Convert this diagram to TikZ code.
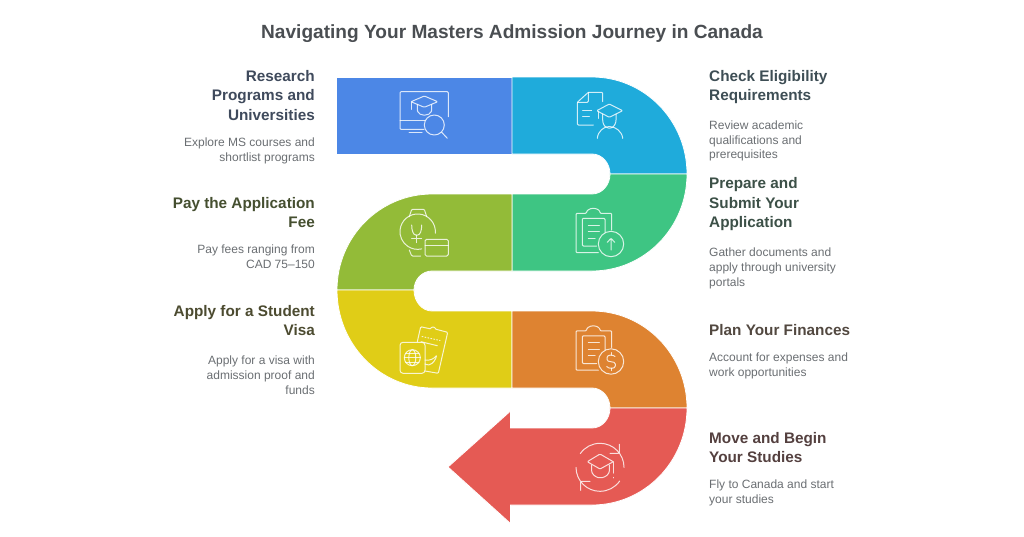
\documentclass[tikz,border=0pt]{standalone}
\usepackage{fontspec}
\setmainfont{Liberation Sans}
\usepackage{tikz}
\usetikzlibrary{positioning}

\definecolor{cblue}{HTML}{4C87E6}
\definecolor{ccyan}{HTML}{1FABDB}
\definecolor{cgreen}{HTML}{3EC583}
\definecolor{colive}{HTML}{93BB38}
\definecolor{cyellow}{HTML}{E0CD17}
\definecolor{corange}{HTML}{DE8331}
\definecolor{cred}{HTML}{E55A54}
\definecolor{ttitle}{HTML}{4A4E52}
\definecolor{tslate}{HTML}{3F4A5C}
\definecolor{tteal}{HTML}{3E4E55}
\definecolor{tgreen}{HTML}{3C5047}
\definecolor{tolive}{HTML}{454F30}
\definecolor{tyellow}{HTML}{4C4B30}
\definecolor{tbrown}{HTML}{524840}
\definecolor{tred}{HTML}{54403F}
\definecolor{tbody}{HTML}{6A6E72}

\tikzset{
  band/.style = { draw = white, line width = .8pt },
  icon/.style = { draw = white, opacity = .8, line width = 1pt, line cap = round, line join = round, rounded corners = 1pt },
  headl/.style = { align = right, anchor = north east, inner sep = 0pt, font = \fontsize{15.3}{19.5}\selectfont\bfseries },
  headr/.style = { align = left, anchor = north west, inner sep = 0pt, font = \fontsize{15.3}{19.5}\selectfont\bfseries },
  bodyl/.style = { align = right, anchor = north east, inner sep = 0pt, text = tbody, font = \fontsize{12}{14.8}\selectfont },
  bodyr/.style = { align = left, anchor = north west, inner sep = 0pt, text = tbody, font = \fontsize{12}{14.8}\selectfont },
  pics/clipboard/.style = { code = {
    \draw [icon] (611.7,230) -- (611.7,213.3) -- (600,213.3) arc [start angle = 0, end angle = 180, x radius = 6.7, y radius = -5] -- (576,213.3) -- (576,252.7) -- (598.3,252.7);
    \draw [icon] (605,232.3) -- (605,218.3) -- (582.3,218.3) -- (582.3,246) -- (596.7,246);
    \draw [icon] (588.3,225) -- (599.3,225) (588.3,231.7) -- (599.3,231.7) (588.3,238.3) -- (595,238.3);
    \draw [icon] (611,244) circle [radius = 12.7];
  } }
}

\begin{document}
\begin{tikzpicture}[x = 1pt, y = -1pt]
    \useasboundingbox (0,0) rectangle (1024,536);
    % bands
    \fill [band, fill = cblue] (336.5,77) rectangle (512,154);
    \fill [band, fill = ccyan] (512,77) -- (592,77) arc [start angle = 90, end angle = 0, x radius = 95, y radius = -97]
      -- (610,174) arc [start angle = 0, end angle = 90, x radius = 18, y radius = -20] -- (512,154) -- cycle;
    \fill [band, fill = cgreen] (512,271) -- (592,271) arc [start angle = -90, end angle = 0, x radius = 95, y radius = -97]
      -- (610,174) arc [start angle = 0, end angle = -90, x radius = 18, y radius = -20] -- (512,194) -- cycle;
    \fill [band, fill = colive] (512,194) -- (432,194) arc [start angle = 90, end angle = 180, x radius = 95, y radius = -96]
      -- (414,290) arc [start angle = 180, end angle = 90, x radius = 18, y radius = -19] -- (512,271) -- cycle;
    \fill [band, fill = cyellow] (512,388) -- (432,388) arc [start angle = -90, end angle = -180, x radius = 95, y radius = -98]
      -- (414,290) arc [start angle = 180, end angle = 270, x radius = 18, y radius = -21] -- (512,311) -- cycle;
    \fill [band, fill = corange] (512,311) -- (592,311) arc [start angle = 90, end angle = 0, x radius = 95, y radius = -97]
      -- (610,408) arc [start angle = 0, end angle = 90, x radius = 18, y radius = -20] -- (512,388) -- cycle;
    \fill [band, fill = cred] (687,408) arc [start angle = 0, end angle = -90, x radius = 95, y radius = -97]
      -- (510.5,505) -- (510.5,523.5) -- (448,467) -- (510.5,411) -- (510.5,428) -- (592,428)
      arc [start angle = -90, end angle = 0, x radius = 18, y radius = -20] -- cycle;
    % monitor icon
    \draw [icon] (448.3,116.7) -- (448.3,91.7) -- (400,91.7) -- (400,129.3) -- (424,129.3);
    \draw [icon] (400,120) -- (425,120) (409,132.3) -- (422,132.3);
    \draw [icon] (434.3,125) circle [radius = 10];
    \draw [icon] (441.7,132.3) -- (447.3,138.3);
    \draw [icon] (424.3,96) -- (437.7,101.7) -- (424.3,107.3) -- (411,101.7) -- cycle;
    \draw [icon] (417.3,104.3) -- (417.3,110.7) .. controls (419,114) and (421,115) .. (424.3,115) .. controls (428,115) and (430,114) .. (431.7,110.7) -- (431.7,104.3);
    \draw [icon] (411,101.7) -- (411,109.3);
    % student icon
    \draw [icon] (602.7,101.7) -- (602.7,92.3) -- (588.3,92.3) -- (577.3,102.3) -- (577.3,125) -- (593.3,125);
    \draw [icon] (588.3,92.3) -- (588.3,102.3) -- (577.3,102.3);
    \draw [icon] (582.7,110.7) -- (591.7,110.7) (582.7,116.7) -- (589.3,116.7);
    \draw [icon] (609.3,104) -- (622.7,110.7) -- (609.3,117.3) -- (596.7,110.7) -- cycle;
    \draw [icon] (602.7,114) -- (602.7,121) .. controls (603.5,125.5) and (606,128) .. (609.3,128) .. controls (612.5,128) and (615,125.5) .. (616,121) -- (616,114);
    \draw [icon] (597.3,138.3) .. controls (598,131) and (604,126.7) .. (609.3,126.7) .. controls (615,126.7) and (622,131) .. (622.7,138.3);
    \draw [icon] (598.3,111.7) -- (598.3,118.3);
    % submit icon
    \pic {clipboard};
    \draw [icon] (611,238.3) -- (611,250) (607.3,242.3) -- (611,238.3) -- (614.7,242.3);
    % watch icon
    \draw [icon] (435.3,233.2) arc [start angle = -5, end angle = 283, x radius = 17.7, y radius = -17.7];
    \draw [icon] (409.3,216.7) -- (411.7,209.3) -- (424.3,209.3) -- (426.7,216.7);
    \draw [icon] (409.3,250) -- (411.7,256) -- (420.7,256);
    \draw [icon] (411.7,225) .. controls (411.7,231) and (413.5,235) .. (416.7,235) .. controls (420,235) and (421.7,231) .. (421.7,225);
    \draw [icon] (416.7,235) -- (416.7,242.7) (411.7,238.3) -- (421.7,238.3);
    \draw [icon, rounded corners = 1.5pt] (425,239.3) rectangle (448.3,256);
    \draw [icon] (425,245) -- (448.3,245);
    % passport icon
    \draw [icon, rounded corners = 3pt] (400,342.3) rectangle (425,373.3);
    \draw [icon] (412.3,357.7) circle [radius = 8];
    \draw [icon] (412.3,357.7) ellipse [x radius = 3.5, y radius = 8];
    \draw [icon] (404.3,357.7) -- (420.3,357.7) (405.5,353.5) -- (419,353.5) (405.5,362) -- (419,362);
    \draw [icon] (417.3,341.7) -- (420.7,326.7) -- (431,329) arc [start angle = 180, end angle = 360, radius = 2] -- (447.7,332.3) -- (438.3,373.3) -- (425,371);
    \draw [icon, dotted] (422,336.5) -- (440,340.5);
    \draw [icon] (421,341.7) -- (437.3,345.7);
    \draw [icon] (425,360) .. controls (429,361) and (434,359) .. (436.7,355) .. controls (436,359) and (433,364) .. (428,365) -- (425,364);
    % finance icon
    \pic at (0,117.5) {clipboard};
    \draw [icon] (615,356.5) .. controls (613.5,354.5) and (607,354.5) .. (607,358.5) .. controls (607,363) and (615.3,360.5) .. (615.3,365) .. controls (615.3,369) and (608.5,369) .. (606.7,366.5);
    \draw [icon] (611,352.7) -- (611,355) (611,368) -- (611,370.5);
    % move icon
    \draw [icon] (600,454) -- (613.3,461.7) -- (600,469) -- (587.3,461.7) -- cycle;
    \draw [icon] (591.7,465) -- (591.7,472) .. controls (594,476.5) and (598,477.7) .. (600,477.7) .. controls (603,477.7) and (607,476.5) .. (609.3,472) -- (609.3,465);
    \draw [icon] (613.3,461.7) -- (613.3,473) (613.3,477.3) -- (613.3,477.9);
    \draw [icon] (576,467.3) arc [start angle = 180, end angle = 35, radius = 24];
    \draw [icon] (619.3,444.3) -- (619.3,453.3) -- (610,453.3);
    \draw [icon] (624,467.3) arc [start angle = 0, end angle = -145, radius = 24];
    \draw [icon] (580.7,490.3) -- (580.7,481.3) -- (590,481.3);
    % title
    \node [inner sep = 0pt, text = ttitle, font = \fontsize{19.1}{23}\selectfont\bfseries] (title) at (512,34) { Navigating Your Masters Admission Journey in Canada };
    % left texts
    \node [headl, text = tslate] (research) at (315,70) { Research\\ Programs and\\ Universities };
    \node [bodyl] (researchb) at (315,137.5) { Explore MS courses and\\ shortlist programs };
    \node [headl, text = tolive] (fee) at (315,197) { Pay the Application\\ Fee };
    \node [bodyl] (feeb) at (315,245) { Pay fees ranging from\\ CAD 75–150 };
    \node [headl, text = tyellow] (visa) at (315,305) { Apply for a Student\\ Visa };
    \node [bodyl] (visab) at (315,355.5) { Apply for a visa with\\ admission proof and\\ funds };
    % right texts
    \node [headr, text = tteal] (check) at (709,70) { Check Eligibility\\ Requirements };
    \node [bodyr] (checkb) at (709,120.5) { Review academic\\ qualifications and\\ prerequisites };
    \node [headr, text = tgreen] (prepare) at (709,177.5) { Prepare and\\ Submit Your\\ Application };
    \node [bodyr] (prepareb) at (709,247.5) { Gather documents and\\ apply through university\\ portals };
    \node [headr, text = tbrown] (plan) at (709,324) { Plan Your Finances };
    \node [bodyr] (planb) at (709,352.5) { Account for expenses and\\ work opportunities };
    \node [headr, text = tred] (move) at (709,432) { Move and Begin\\ Your Studies };
    \node [bodyr] (moveb) at (709,480) { Fly to Canada and start\\ your studies };
\end{tikzpicture}
\end{document}
